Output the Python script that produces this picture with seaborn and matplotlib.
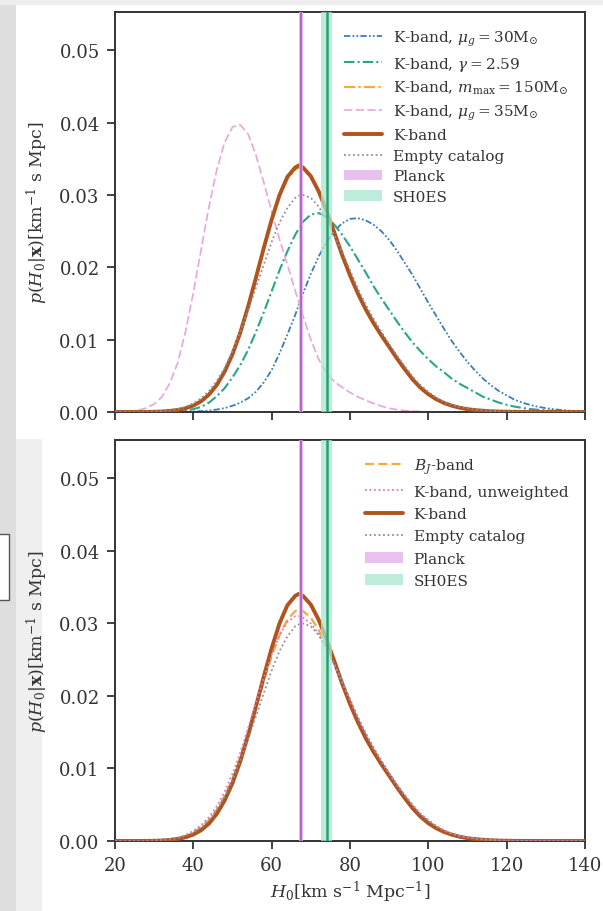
import numpy as np
import pandas as pd
import matplotlib
matplotlib.use("Agg")
import matplotlib.pyplot as plt
from matplotlib.patches import Rectangle
import seaborn as sns

# ---------------- data ----------------
H0 = [20, 22, 24, 26, 28, 30, 32, 34, 36, 38, 40, 42, 44, 46, 48, 50, 52, 54, 56, 58,
      60, 62, 64, 66, 67, 68, 70, 72, 74, 76, 78, 80, 82, 84, 86, 88, 90, 92, 94, 96, 98,
      100, 102, 104, 106, 108, 110, 112, 114, 116, 118, 120, 122, 124, 126, 128, 130,
      132, 134, 136, 138, 140]

kband = [0, 0, 0, 0, 0.00001, 0.00003, 0.00007, 0.00015, 0.00028, 0.00051,
         0.00089, 0.00149, 0.00241, 0.00375, 0.0056, 0.0080, 0.0110, 0.0146, 0.0186, 0.0227,
         0.0266, 0.0300, 0.0325, 0.0338, 0.0341, 0.0338, 0.0326, 0.0305, 0.0278, 0.0248, 0.0217,
         0.0189, 0.0164, 0.0142, 0.0123, 0.0106, 0.0090, 0.0074, 0.0059, 0.0045, 0.00335,
         0.00246, 0.00177, 0.00125, 0.00087, 0.00059, 0.00039, 0.00026, 0.00017, 0.0001, 0.00006,
         0.00004, 0.00002, 0.00001, 0, 0, 0, 0, 0, 0, 0, 0]

kband_mmax150 = [0, 0, 0, 0, 0.00001, 0.00003, 0.00007, 0.00015, 0.00028, 0.00052,
                 0.0009, 0.0015, 0.00243, 0.00378, 0.0057, 0.0081, 0.0111, 0.0147, 0.0186, 0.0227,
                 0.0265, 0.0298, 0.0322, 0.0335, 0.0338, 0.0336, 0.0325, 0.0305, 0.0279, 0.0249,
                 0.0218, 0.0190, 0.0165, 0.0143, 0.0124, 0.0107, 0.0091, 0.0075, 0.0060, 0.0046,
                 0.0034, 0.0025, 0.0018, 0.0013, 0.0009, 0.0006, 0.0004, 0.00027, 0.00018, 0.00011,
                 0.00007, 0.00004, 0.00002, 0.00001, 0, 0, 0, 0, 0, 0, 0, 0]

empty_catalog = [0, 0, 0, 0.00001, 0.00003, 0.00006, 0.00012, 0.00022, 0.0004, 0.0007,
                 0.0012, 0.0019, 0.0029, 0.0043, 0.0061, 0.0084, 0.0111, 0.0141, 0.0172, 0.0204,
                 0.0235, 0.0262, 0.0282, 0.0296, 0.0299, 0.0300, 0.0296, 0.0284, 0.0266, 0.0244,
                 0.0221, 0.0196, 0.0171, 0.0149, 0.0129, 0.0111, 0.0094, 0.0078, 0.0063, 0.0049,
                 0.0037, 0.0028, 0.0020, 0.0014, 0.0010, 0.0007, 0.0005, 0.00033, 0.00022, 0.00014,
                 0.00009, 0.00006, 0.00004, 0.00002, 0.00001, 0, 0, 0, 0, 0, 0, 0]

kband_gamma259 = [0, 0, 0, 0, 0, 0.00001, 0.00002, 0.00005, 0.0001, 0.0002,
                  0.0004, 0.0007, 0.0013, 0.0022, 0.0033, 0.0048, 0.0065, 0.0086, 0.0111, 0.0138,
                  0.0167, 0.0196, 0.0222, 0.0245, 0.0254, 0.0263, 0.0273, 0.0275, 0.0270, 0.0259,
                  0.0245, 0.0229, 0.0211, 0.0193, 0.0174, 0.0157, 0.0141, 0.0125, 0.0110, 0.0096,
                  0.0084, 0.0073, 0.0063, 0.0055, 0.0046, 0.0039, 0.0033, 0.0027, 0.0021, 0.0017,
                  0.0013, 0.00099, 0.00075, 0.00056, 0.00041, 0.0003, 0.00022, 0.00016, 0.00011,
                  0.00008, 0.00005, 0.00003]

kband_mug30 = [0, 0, 0, 0, 0, 0, 0, 0.00001, 0.00002, 0.00004,
               0.00007, 0.00012, 0.0002, 0.00034, 0.00054, 0.00086, 0.0013, 0.0019, 0.0028, 0.0041,
               0.0058, 0.0081, 0.0107, 0.0134, 0.0149, 0.0164, 0.0191, 0.0215, 0.0235, 0.0250,
               0.0261, 0.0267, 0.0268, 0.0265, 0.0259, 0.0250, 0.0238, 0.0223, 0.0206, 0.0189,
               0.0170, 0.0151, 0.0133, 0.0115, 0.0098, 0.0083, 0.0069, 0.0057, 0.0046, 0.0037,
               0.0029, 0.0023, 0.0017, 0.0013, 0.00098, 0.00072, 0.00053, 0.00038, 0.00027,
               0.00019, 0.00013, 0.00009]

kband_mug35 = [0.00002, 0.00005, 0.00011, 0.00026, 0.00055, 0.0011, 0.0021, 0.0040, 0.0068, 0.0111,
               0.0165, 0.0225, 0.0284, 0.0335, 0.0373, 0.0394, 0.0397, 0.0384, 0.0355, 0.0317,
               0.0277, 0.0239, 0.0204, 0.0168, 0.0150, 0.0133, 0.0100, 0.0073, 0.0054, 0.0042,
               0.0034, 0.0027, 0.0021, 0.0016, 0.0012, 0.0008, 0.00052, 0.00033, 0.0002, 0.00012,
               0.00007, 0.00004, 0, 0, 0, 0, 0, 0, 0, 0,
               0, 0, 0, 0, 0, 0, 0, 0, 0, 0, 0, 0]

bj_band = [0, 0, 0, 0.00001, 0.00003, 0.00006, 0.00012, 0.00023, 0.0004, 0.0007,
           0.0012, 0.0019, 0.0029, 0.0043, 0.0062, 0.0086, 0.0115, 0.0148, 0.0184, 0.0220,
           0.0255, 0.0284, 0.0305, 0.0317, 0.0319, 0.0317, 0.0308, 0.0291, 0.0269, 0.0244,
           0.0218, 0.0192, 0.0168, 0.0146, 0.0126, 0.0108, 0.0091, 0.0076, 0.0061, 0.0048,
           0.0036, 0.0027, 0.0019, 0.0013, 0.0009, 0.0006, 0.0004, 0.00027, 0.00018, 0.00011,
           0.00007, 0.00004, 0.00002, 0.00001, 0, 0, 0, 0, 0, 0, 0, 0]

kband_unweighted = [0, 0, 0, 0.00001, 0.00003, 0.00007, 0.00013, 0.00025, 0.00045, 0.0008,
                    0.0014, 0.0022, 0.0033, 0.0048, 0.0068, 0.0093, 0.0122, 0.0156, 0.0191, 0.0225,
                    0.0257, 0.0284, 0.0302, 0.0310, 0.0310, 0.0308, 0.0300, 0.0286, 0.0266, 0.0243,
                    0.0219, 0.0194, 0.0170, 0.0148, 0.0128, 0.0110, 0.0093, 0.0077, 0.0063, 0.0050,
                    0.0038, 0.0029, 0.0021, 0.0015, 0.0010, 0.0007, 0.0005, 0.00033, 0.00022, 0.00014,
                    0.00009, 0.00006, 0.00004, 0.00002, 0.00001, 0, 0, 0, 0, 0, 0, 0]

planck = (67.4, 0.5)
shoes = (74.0, 1.4)

x_ticks = [20, 40, 60, 80, 100, 120, 140]
y_ticks = [0.00, 0.01, 0.02, 0.03, 0.04, 0.05]

# ---------------- style ----------------
sns.set_style("ticks")
plt.rcParams["font.family"] = ["DejaVu Serif"]
plt.rcParams["mathtext.fontset"] = "dejavuserif"
plt.rcParams["axes.edgecolor"] = "#333333"
plt.rcParams["axes.linewidth"] = 1.4

C_BROWN = "#b0531c"
C_ORANGE = "#f4a93a"
C_TEAL = "#2aa58a"
C_BLUE = "#3a7db8"
C_PINK = "#e7a6dc"
C_GRAY = "#8a90a0"
C_MAGENTA = "#d67cc8"
C_TEXT = "#333333"

fig = plt.figure(figsize=(6.03, 9.12), dpi=100)
fig.patch.set_facecolor("white")
fig.patches.append(Rectangle((0, 0), 16 / 603, 1, transform=fig.transFigure,
                             facecolor="#dedede", edgecolor="none", zorder=-10))
fig.patches.append(Rectangle((16 / 603, 0), 26 / 603, 1 - 440 / 912, transform=fig.transFigure,
                             facecolor="#efefef", edgecolor="none", zorder=-10))
fig.patches.append(Rectangle((0, 1 - 6 / 912), 1, 6 / 912, transform=fig.transFigure,
                             facecolor="#eeeeee", edgecolor="none", zorder=-10))
fig.patches.append(Rectangle((-2 / 603, 1 - 601 / 912), 11 / 603, 66 / 912,
                             transform=fig.transFigure, facecolor="white",
                             edgecolor="#555555", lw=1.0, zorder=-9))

ax1 = fig.add_axes([115 / 603, 1 - 413 / 912, 470 / 603, 400 / 912])
ax2 = fig.add_axes([115 / 603, 1 - 842 / 912, 470 / 603, 401 / 912])


def draw(ax, x, y, color, ls, lw, label, z=2):
    sns.lineplot(x=x, y=y, ax=ax, color=color, linestyle=ls, linewidth=lw,
                 label=label, zorder=z, estimator=None, sort=False)


dashdotdot = (0, (3.5, 1.2, 1, 1.2, 1, 1.2))
dashdot = (0, (5, 1.5, 1, 1.5))

# top panel
draw(ax1, H0, kband_mug30, C_BLUE, dashdotdot, 1.3, r"K-band, $\mu_g = 30\mathrm{M}_{\odot}$")
draw(ax1, H0, kband_gamma259, C_TEAL, dashdot, 1.5, r"K-band, $\gamma = 2.59$")
draw(ax1, H0, kband_mmax150, C_ORANGE, dashdot, 1.6, r"K-band, $m_{\max} = 150\mathrm{M}_{\odot}$", 2.5)
draw(ax1, H0, kband_mug35, C_PINK, (0, (5, 2)), 1.2, r"K-band, $\mu_g = 35\mathrm{M}_{\odot}$")
draw(ax1, H0, kband, C_BROWN, "-", 2.8, "K-band", 3)
draw(ax1, H0, empty_catalog, C_GRAY, (0, (1, 1.5)), 1.3, "Empty catalog", 3.5)

# bottom panel
draw(ax2, H0, bj_band, C_ORANGE, (0, (4, 2)), 1.6, r"$B_J$-band", 2.5)
draw(ax2, H0, kband_unweighted, C_MAGENTA, (0, (1, 1.5)), 1.3, "K-band, unweighted", 3.5)
draw(ax2, H0, kband, C_BROWN, "-", 2.8, "K-band", 3)
draw(ax2, H0, empty_catalog, C_GRAY, (0, (1, 1.5)), 1.3, "Empty catalog", 3.6)

for ax in (ax1, ax2):
    ax.axvspan(planck[0] - planck[1], planck[0] + planck[1], color="#e3b2ea", alpha=0.8,
               lw=0, label="Planck", zorder=4)
    ax.axvline(planck[0], color="#b467c4", lw=1.5, zorder=4.1)
    ax.axvspan(shoes[0] - shoes[1], shoes[0] + shoes[1], color="#a9e6cf", alpha=0.75,
               lw=0, label="SH0ES", zorder=4)
    ax.axvline(shoes[0], color="#2a9f70", lw=1.8, zorder=4.1)

    ax.set_xlim(20, 140)
    ax.set_ylim(0, 0.0553)
    ax.set_xticks(x_ticks)
    ax.set_yticks(y_ticks)
    ax.set_yticklabels([f"{v:.2f}" for v in y_ticks])
    ax.tick_params(axis="both", labelsize=13, length=6, width=1.3, color=C_TEXT,
                   labelcolor=C_TEXT, direction="out", pad=5)
    for s in ax.spines.values():
        s.set_visible(True)
        s.set_linewidth(1.4)
        s.set_color(C_TEXT)
    ax.set_ylabel(r"$p(H_0|\mathbf{x})$[km$^{-1}$ s Mpc]", fontsize=12.5, color=C_TEXT,
                  labelpad=7)
    ax.set_xlabel("")

ax1.set_xticklabels([])
ax2.set_xticklabels([str(t) for t in x_ticks])
ax2.set_xlabel(r"$H_0$[km s$^{-1}$ Mpc$^{-1}$]", fontsize=12.5, color=C_TEXT, labelpad=3)

leg1 = ax1.legend(loc="upper right", frameon=False, fontsize=11, labelspacing=0.42,
                  handlelength=2.5, handletextpad=0.7, borderaxespad=0.7)
leg2 = ax2.legend(loc="upper right", frameon=False, fontsize=11, labelspacing=0.55,
                  handlelength=2.5, handletextpad=0.7, borderaxespad=0.7)
for leg in (leg1, leg2):
    for t in leg.get_texts():
        t.set_color(C_TEXT)

fig.savefig("out.png", dpi=100, facecolor=fig.get_facecolor())
